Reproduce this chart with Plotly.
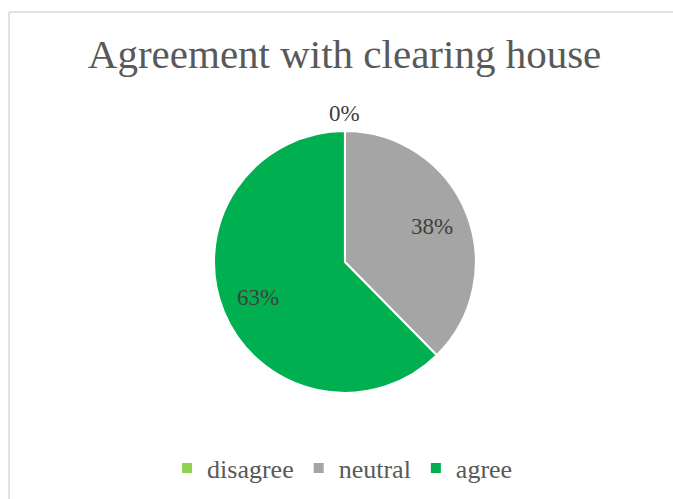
import math
import plotly.graph_objects as go

# Survey responses: share of respondents per answer (percent)
categories = ["disagree", "neutral", "agree"]
shares = [0, 38, 63]
colors = ["#92D050", "#A5A5A5", "#00B050"]

W, H = 673, 499
FONT = "Liberation Serif"

# Pie placement (paper fractions)
dom_x = [0.318, 0.707]
dom_y = [0.212, 0.738]
cx = (dom_x[0] + dom_x[1]) / 2 * W
cy = (dom_y[0] + dom_y[1]) / 2 * H
radius = min(dom_x[1] - dom_x[0], (dom_y[1] - dom_y[0]) * H / W) * W / 2

fig = go.Figure(
    go.Pie(
        labels=categories,
        values=shares,
        sort=False,
        direction="clockwise",
        rotation=0,
        marker=dict(colors=colors, line=dict(color="white", width=2)),
        textinfo="none",
        hoverinfo="label+value",
        domain=dict(x=dom_x, y=dom_y),
        showlegend=True,
    )
)

# Data labels placed at each slice's mid-angle (clockwise from 12 o'clock)
total = sum(shares)
start = 0.0
annotations = []
for name, v in zip(categories, shares):
    sweep = v / total * 2 * math.pi
    mid = start + sweep / 2
    start += sweep
    r = radius + 18 if v == 0 else radius * 0.72
    annotations.append(dict(
        x=(cx + r * math.sin(mid)) / W,
        y=(cy + r * math.cos(mid)) / H,
        xref="paper", yref="paper",
        xanchor="center", yanchor="middle",
        text=f"{v}%", showarrow=False,
        font=dict(family=FONT, size=23, color="#404040"),
    ))

fig.update_layout(
    width=W,
    height=H,
    margin=dict(l=0, r=0, t=0, b=0),
    paper_bgcolor="white",
    plot_bgcolor="white",
    title=dict(
        text="Agreement with clearing house",
        x=0.512,
        xanchor="center",
        y=0.893,
        yanchor="middle",
        font=dict(family=FONT, size=41, color="#595959"),
    ),
    legend=dict(
        orientation="h",
        x=0.509,
        xanchor="center",
        y=0.062,
        yanchor="middle",
        font=dict(family=FONT, size=26, color="#595959"),
        itemwidth=30,
        traceorder="normal",
    ),
    annotations=annotations,
    shapes=[
        dict(type="line", xref="paper", yref="paper", x0=9 / W, x1=1.0,
             y0=1 - 12 / H, y1=1 - 12 / H, line=dict(color="#D9D9D9", width=1.5)),
        dict(type="line", xref="paper", yref="paper", x0=9 / W, x1=9 / W,
             y0=0.0, y1=1 - 12 / H, line=dict(color="#D9D9D9", width=1.5)),
    ],
)

fig.write_html("out.html")
